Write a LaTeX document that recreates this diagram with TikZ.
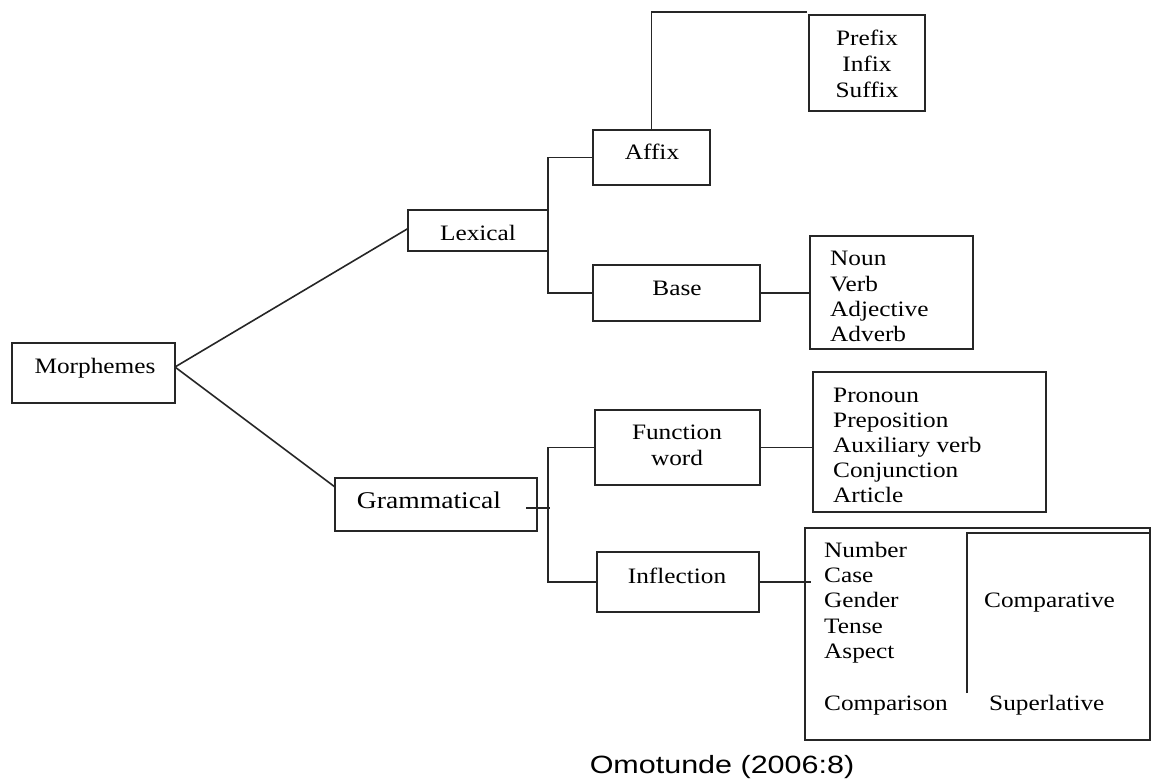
\documentclass[tikz,border=0pt]{standalone}
\usepackage{fontspec}
\setmainfont{Liberation Serif}[FakeStretch=1.15]
\newfontfamily\capfont{Liberation Sans}[FakeStretch=1.22]
\usetikzlibrary{calc}
\begin{document}
\begin{tikzpicture}[x=1pt,y=-1pt,
  ln/.style={draw=black!85,line width=1.6pt},
  box/.style={ln,rectangle,inner sep=0pt,outer sep=0pt},
  txt/.style={inner sep=0pt,anchor=base,font=\fontsize{22}{25}\selectfont},
  ltxt/.style={inner sep=0pt,anchor=base west,font=\fontsize{22}{25}\selectfont}]
\useasboundingbox (0,0) rectangle (1152,780);
% boxes
\node[box,minimum width=163pt,minimum height=60pt] (morph) at (93.5,373) {};
\node[box,minimum width=140pt,minimum height=41pt] (lex) at (478,230.5) {};
\node[box,minimum width=117pt,minimum height=55pt] (affix) at (651.5,157.5) {};
\node[box,minimum width=116pt,minimum height=96pt] (prefix) at (867,63) {};
\node[box,minimum width=167pt,minimum height=56pt] (base) at (676.5,293) {};
\node[box,minimum width=163pt,minimum height=113pt] (noun) at (891.5,292.5) {};
\node[box,minimum width=202pt,minimum height=53pt] (gram) at (436,504.5) {};
\node[box,minimum width=165pt,minimum height=75pt] (func) at (677.5,447.5) {};
\node[box,minimum width=233pt,minimum height=140pt] (pron) at (929.5,442) {};
\node[box,minimum width=162pt,minimum height=60pt] (infl) at (678,582) {};
\node[box,minimum width=345pt,minimum height=212pt] (big) at (977.5,634) {};
% texts
\node[txt] (tmorph) at (95,373) {Morphemes};
\node[txt] (tlex) at (478,240) {Lexical};
\node[txt] (taffix) at (652,159) {Affix};
\node[txt] (tpre1) at (867,45) {Prefix};
\node[txt] (tpre2) at (867,71) {Infix};
\node[txt] (tpre3) at (867,97) {Suffix};
\node[txt] (tbase) at (677,295) {Base};
\node[ltxt] (tn1) at (830,265) {Noun};
\node[ltxt] (tn2) at (830,291) {Verb};
\node[ltxt] (tn3) at (830,316) {Adjective};
\node[ltxt] (tn4) at (830,341) {Adverb};
\node[txt,font=\fontsize{24}{27}\selectfont] (tgram) at (429,508) {Grammatical};
\node[txt] (tfunc1) at (677,439) {Function};
\node[txt] (tfunc2) at (677,465) {word};
\node[ltxt] (tp1) at (833,402) {Pronoun};
\node[ltxt] (tp2) at (833,427) {Preposition};
\node[ltxt] (tp3) at (833,452) {Auxiliary verb};
\node[ltxt] (tp4) at (833,477) {Conjunction};
\node[ltxt] (tp5) at (833,502) {Article};
\node[txt] (tinfl) at (677,583) {Inflection};
\node[ltxt] (ti1) at (824,557) {Number};
\node[ltxt] (ti2) at (824,582) {Case};
\node[ltxt] (ti3) at (824,607) {Gender};
\node[ltxt] (ti4) at (824,633) {Tense};
\node[ltxt] (ti5) at (824,658) {Aspect};
\node[ltxt] (ti6) at (824,710) {Comparison};
\node[ltxt] (tcomp) at (984,607) {Comparative};
\node[ltxt] (tsup) at (989,710) {Superlative};
\node[inner sep=0pt,anchor=base,font=\capfont\fontsize{25}{28}\selectfont] (cap) at (722,773) {Omotunde (2006:8)};
% connectors
\coordinate (mj) at (175,367);
\draw[ln] (mj) -- ($(lex.west)+(0,-2)$);
\draw[ln] (mj) -- ($(gram.north west)+(0,9)$);
\draw[ln] (affix.west) -- (affix.west -| lex.east) -- (base.west -| lex.east) -- (base.west);
\coordinate (pend) at (807,12);
\draw[ln] (affix.north) |- (pend);
\draw[ln] (base.east) -- (base.east -| noun.west);
\coordinate (gt1) at (526,508);
\coordinate (gt2) at (550,508);
\coordinate (gx) at (548,508);
\draw[ln] (gt1) -- (gt2);
\draw[ln] (func.west) -- (func.west -| gx) -- (infl.west -| gx) -- (infl.west);
\draw[ln] (func.east) -- (func.east -| pron.west);
\coordinate (ie) at (811,582);
\draw[ln] (infl.east) -- (ie);
% inner divider of the inflection box
\draw[ln] (967,693) -- (967,533) -- (big.east |- 0,533);
\end{tikzpicture}
\end{document}
